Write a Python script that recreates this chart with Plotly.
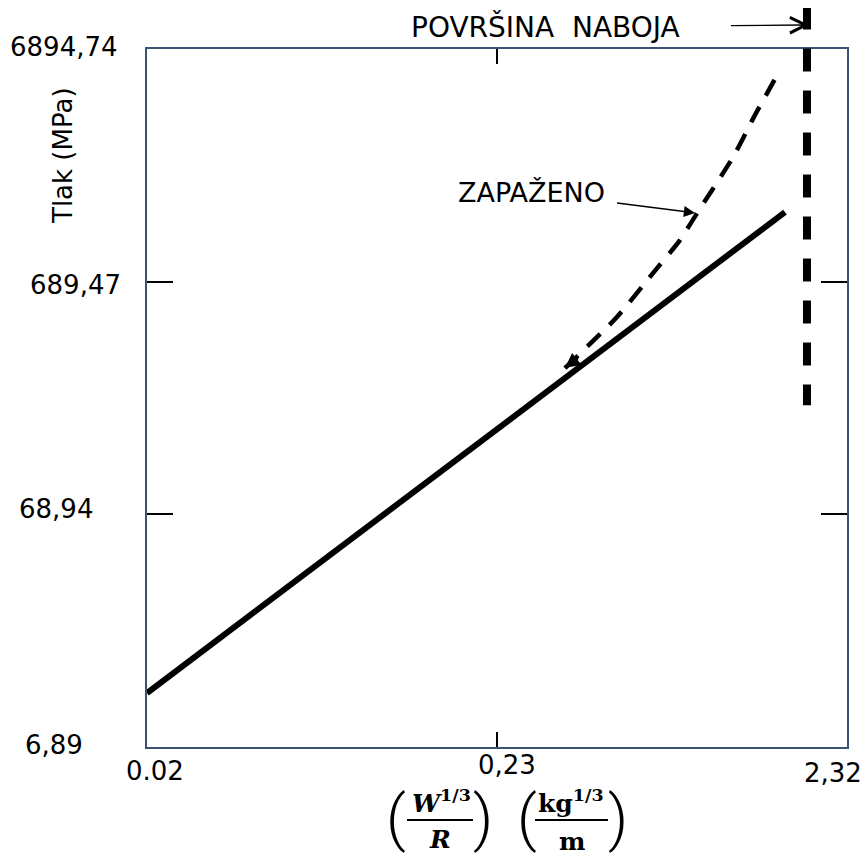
import math
import plotly.graph_objects as go

# ---------------- data ----------------
x_tick_vals = [0.0232, 0.232, 2.32]
x_tick_labels = ["0.02", "0,23", "2,32"]
y_tick_vals = [6.89, 68.94, 689.47, 6894.74]
y_tick_labels = ["6,89", "68,94", "689,47", "6894,74"]

# straight (calculated) line
calc_x = [0.0232, 1.543]
calc_p = [11.76, 1372.0]

# observed (dashed) curve
obs_x = [0.3628, 0.5109, 0.6475, 0.7733, 0.865, 1.096, 1.266, 1.503]
obs_p = [293.0, 486.0, 750.0, 1040.0, 1358.0, 2364.0, 3583.0, 5702.0]

# charge surface marker
surface_x = 1.783
surface_p = [10500.0, 203.0]   # top, bottom

# annotation targets
note_x, note_p = 0.865, 1358.0
branch_x, branch_p = 0.3628, 293.0

# ---------------- layout constants ----------------
# the page body has an 8px margin, so the figure is drawn 8px smaller
BODY = 8
SW, SH = 868, 853                     # screen size
PL, PT, PR, PB = 147, 49, 847, 747    # plot area on screen
W, H = SW - BODY, SH - BODY
L, T = PL - BODY, PT - BODY
R, B = SW - PR, SH - PB
PW, PH = PR - PL, PB - PT
AXIS_COLOR = "#3b5274"
FONT = "DejaVu Sans"

xr = [math.log10(x_tick_vals[0]), math.log10(x_tick_vals[-1])]
yr = [math.log10(y_tick_vals[0]), math.log10(y_tick_vals[-1])]


def px_x(px):
    return (px - PL) / PW


def px_y(py):
    return (PB - py) / PH


def y_paper(v):
    return (math.log10(v) - yr[0]) / (yr[1] - yr[0])


fig = go.Figure()

fig.add_trace(go.Scatter(
    x=calc_x, y=calc_p, mode="lines",
    line=dict(color="black", width=6), hoverinfo="skip", showlegend=False))

fig.add_trace(go.Scatter(
    x=obs_x, y=obs_p, mode="lines",
    line=dict(color="black", width=4.5, dash="18px,13px", shape="spline", smoothing=0.6),
    hoverinfo="skip", showlegend=False))

shapes = [
    dict(type="line", xref="x", yref="paper",
         x0=surface_x, x1=surface_x,
         y0=y_paper(surface_p[0]), y1=y_paper(surface_p[1]),
         line=dict(color="black", width=8, dash="23px,19px")),
    # fraction bars of the x-axis label
    dict(type="line", xref="paper", yref="paper",
         x0=px_x(407), x1=px_x(473), y0=px_y(820), y1=px_y(820),
         line=dict(color="black", width=2)),
    dict(type="line", xref="paper", yref="paper",
         x0=px_x(535), x1=px_x(608), y0=px_y(820), y1=px_y(820),
         line=dict(color="black", width=2)),
]

annotations = []

# y tick labels
y_right_px = [85, 95, 123, 120]
y_shift = [2, 5, -3, 2]
for v, lab, rpx, ys in zip(y_tick_vals, y_tick_labels, y_right_px, y_shift):
    annotations.append(dict(
        text=lab, xref="paper", yref="y", x=px_x(rpx), y=math.log10(v),
        xanchor="right", yanchor="middle", yshift=ys, showarrow=False,
        font=dict(family=FONT, size=26, color="black")))

# x tick labels
x_shift = [8, 10, -14]
x_label_py = [771, 765, 773]
for v, lab, xs, py in zip(x_tick_vals, x_tick_labels, x_shift, x_label_py):
    annotations.append(dict(
        text=lab, xref="x", yref="paper", x=math.log10(v), y=px_y(py),
        xanchor="center", yanchor="middle", xshift=xs, showarrow=False,
        font=dict(family=FONT, size=26, color="black")))

# y axis title
annotations.append(dict(
    text="Tlak (MPa)", xref="paper", yref="paper", x=px_x(63), y=px_y(156),
    textangle=-90, xanchor="center", yanchor="middle", showarrow=False,
    font=dict(family=FONT, size=26, color="black")))

# POVRŠINA NABOJA with arrow
head_py = 25
annotations.append(dict(
    text="POVRŠINA\u00a0 NABOJA", xref="x", yref="paper",
    x=math.log10(surface_x), y=px_y(head_py), xshift=2,
    ax=546 - 809, ay=27 - head_py, axref="pixel", ayref="pixel",
    showarrow=True, arrowhead=5, arrowsize=2.2, arrowwidth=1.4, arrowcolor="black",
    borderpad=50, standoff=0,
    font=dict(family=FONT, size=28, color="black")))

# ZAPAŽENO with arrow
annotations.append(dict(
    text="ZAPAŽENO", xref="x", yref="y",
    x=math.log10(note_x), y=math.log10(note_p),
    ax=527 - 693, ay=192 - 213,
    showarrow=True, arrowhead=2, arrowsize=1.4, arrowwidth=1.6, arrowcolor="black",
    borderpad=12, standoff=2,
    font=dict(family=FONT, size=27, color="black")))

# small arrow head at the branch point
annotations.append(dict(
    text="", xref="x", yref="y",
    x=math.log10(branch_x), y=math.log10(branch_p),
    ax=14, ay=-11, showarrow=True, arrowhead=2, arrowsize=1.0, arrowwidth=3,
    arrowcolor="black", standoff=0))

# x axis title (built from pieces)
paren_font = dict(family="Roboto", size=62, color="black", weight=300)
math_font = dict(family="DejaVu Serif", size=25, color="black")
for txt, px, py, f in [
    ("(", 396, 818, paren_font),
    ("<b><i>W</i><sup>1/3</sup></b>", 441, 801, math_font),
    ("<b><i>R</i></b>", 440, 839, math_font),
    (")", 483, 818, paren_font),
    ("(", 527, 818, paren_font),
    ("<b>kg<sup>1/3</sup></b>", 571, 801, math_font),
    ("<b>m</b>", 572, 841, math_font),
    (")", 618, 818, paren_font),
]:
    annotations.append(dict(
        text=txt, xref="paper", yref="paper", x=px_x(px), y=px_y(py),
        xanchor="center", yanchor="middle", showarrow=False, font=f))

fig.update_layout(
    width=W, height=H,
    margin=dict(l=L, r=R, t=T, b=B, pad=0),
    paper_bgcolor="white", plot_bgcolor="white",
    showlegend=False,
    shapes=shapes,
    annotations=annotations,
    xaxis=dict(
        type="log", range=xr, showgrid=False, zeroline=False,
        showline=True, linecolor=AXIS_COLOR, linewidth=2, mirror="ticks",
        ticks="inside", tickvals=[x_tick_vals[1]], ticklen=15, tickwidth=2,
        tickcolor="black", showticklabels=False),
    yaxis=dict(
        type="log", range=yr, showgrid=False, zeroline=False,
        showline=True, linecolor=AXIS_COLOR, linewidth=2, mirror="ticks",
        ticks="inside", tickvals=y_tick_vals[1:3], ticklen=26, tickwidth=2,
        tickcolor="black", showticklabels=False),
)

fig.write_html("out.html")
